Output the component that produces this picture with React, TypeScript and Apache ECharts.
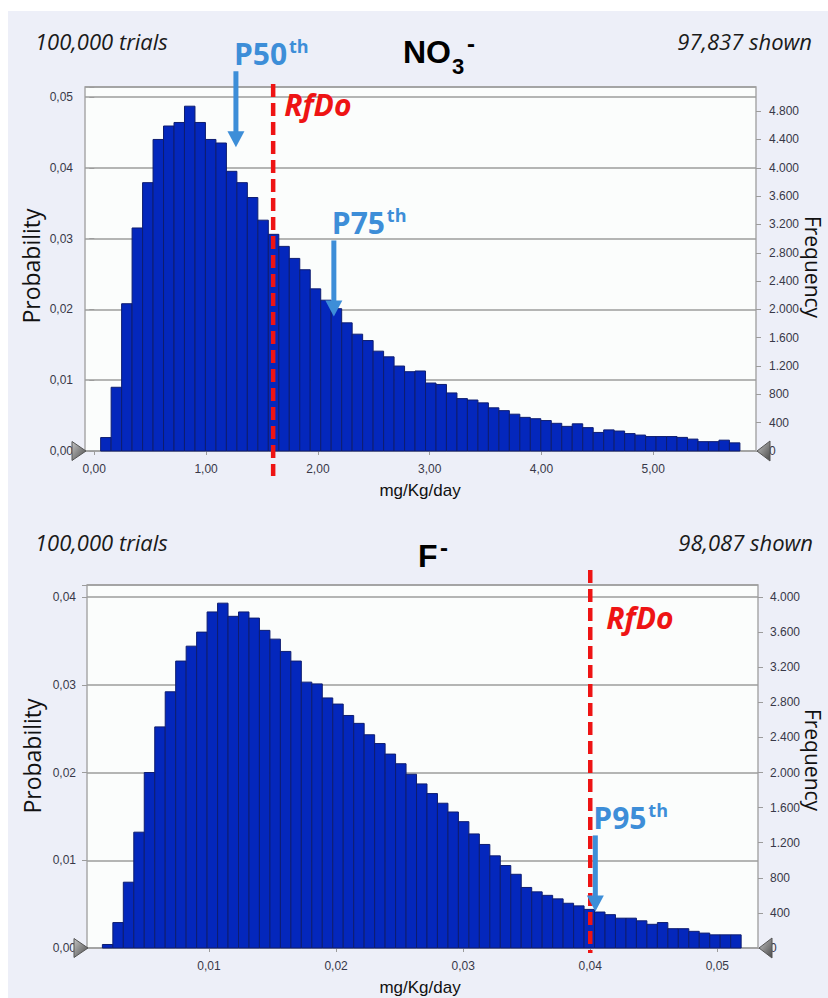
import React, { useEffect, useRef } from 'react';
import * as echarts from 'echarts';

// ---------- data ----------
const TRIALS_TEXT = '100,000 trials';
const NO3_SHOWN_TEXT = '97,837 shown';
const F_SHOWN_TEXT = '98,087 shown';
const X_NAME = 'mg/Kg/day';

// NO3- histogram: 61 bins
const NO3_BIN_START = 0.057;
const NO3_BIN_WIDTH = 0.09374;
const NO3_PROB = [
  0.0019, 0.009, 0.0208, 0.0315, 0.0379, 0.044, 0.0459, 0.0464, 0.0487, 0.0464,
  0.044, 0.0435, 0.0395, 0.0379, 0.0358, 0.0326, 0.0306, 0.0289, 0.0272, 0.0256,
  0.0229, 0.0213, 0.0201, 0.0181, 0.0165, 0.0156, 0.0141, 0.0133, 0.012, 0.0112,
  0.0113, 0.0096, 0.0094, 0.0082, 0.0074, 0.0072, 0.0068, 0.0061, 0.0057, 0.0052,
  0.00475, 0.00456, 0.00430, 0.00391, 0.00348, 0.00384, 0.00330, 0.00262, 0.00298, 0.00282,
  0.00246, 0.00225, 0.00204, 0.00204, 0.00204, 0.00192, 0.00168, 0.00132, 0.00132, 0.00153,
  0.00115,
];
const NO3_X_TICKS = [0, 1, 2, 3, 4, 5];
const NO3_FREQ_TICKS = [0, 400, 800, 1200, 1600, 2000, 2400, 2800, 3200, 3600, 4000, 4400, 4800];
const NO3_X_MIN = -0.083;
const NO3_X_MAX = 5.919;
const NO3_P_MAX = 0.05141;
const NO3_RFD = 1.6;
const NO3_P50 = 1.267;
const NO3_P50_TIP = 0.0429;
const NO3_P75 = 2.143;
const NO3_P75_TIP = 0.019;

// F- histogram: 61 bins
const F_BIN_START = 0.00161;
const F_BIN_WIDTH = 0.000824;
const F_PROB = [
  0.0004, 0.0029, 0.0075, 0.0132, 0.02, 0.0252, 0.0292, 0.0327, 0.0344, 0.036,
  0.0383, 0.0393, 0.0378, 0.0383, 0.0376, 0.0362, 0.0352, 0.0338, 0.0327, 0.0303,
  0.0301, 0.0285, 0.0278, 0.0265, 0.0256, 0.0243, 0.0233, 0.0221, 0.021, 0.0198,
  0.0187, 0.0176, 0.0165, 0.0155, 0.0144, 0.013, 0.0118, 0.0105, 0.0094, 0.0084,
  0.0069, 0.0064, 0.006, 0.0056, 0.0051, 0.0048, 0.0044, 0.0041, 0.0038, 0.0034,
  0.0034, 0.0031, 0.0027, 0.0029, 0.0022, 0.0022, 0.0019, 0.0017, 0.0015, 0.0015,
  0.0015,
];
const F_X_TICKS = [0.01, 0.02, 0.03, 0.04, 0.05];
const F_FREQ_TICKS = [0, 400, 800, 1200, 1600, 2000, 2400, 2800, 3200, 3600, 4000];
const F_X_MIN = 0.0004;
const F_X_MAX = 0.0532;
const F_P_MAX = 0.04137;
const F_RFD = 0.04;
const F_P95 = 0.0404;
const F_P95_TIP = 0.00417;

const TRIALS_COUNT = 100000;

// ---------- styles ----------
const BG = '#edeff8';
const PLOT_BG = '#fbfdfc';
const BAR_FILL = '#0427bc';
const BAR_STROKE = '#0e1d70';
const BLUE = '#3d8ed8';
const RED = '#ee1414';
const LABEL = { color: '#383848', fontSize: 12, fontFamily: 'Liberation Sans, Arial, sans-serif' };
const GRIDLINE = { show: true, lineStyle: { color: '#9c9c9c', width: 1.5 } };
const TICK = { show: true, length: 5, lineStyle: { color: '#9c9c9c', width: 1 } };

const fmtDec = (v: number) => {
  if (Math.abs(v * 100 - Math.round(v * 100)) > 1e-6) return '';
  return v.toFixed(2).replace('.', ',');
};
const fmtThousand = (v: number) => {
  const n = Math.round(v);
  return n >= 1000 ? `${Math.floor(n / 1000)}.${String(n % 1000).padStart(3, '0')}` : String(n);
};

const histData = (start: number, width: number, probs: number[]) =>
  probs.map((p, i) => [start + i * width, start + (i + 1) * width, p]);

const renderItem = (_params: any, api: any) => {
  const a = api.coord([api.value(0), api.value(2)]);
  const b = api.coord([api.value(1), 0]);
  return {
    type: 'rect',
    shape: { x: a[0], y: a[1], width: b[0] - a[0], height: b[1] - a[1] },
    style: { fill: BAR_FILL, stroke: BAR_STROKE, lineWidth: 1 },
  };
};

const xAxisDef = (gridIndex: number, min: number, max: number, ticks: number[]) => ({
  type: 'value',
  gridIndex,
  min,
  max,
  axisLine: { show: false },
  splitLine: { show: false },
  axisTick: { ...TICK, length: 4, customValues: ticks },
  axisLabel: { ...LABEL, customValues: ticks, formatter: fmtDec, margin: 12 },
});

const yLeftDef = (gridIndex: number, max: number, margin: number) => ({
  type: 'value',
  gridIndex,
  position: 'left',
  min: 0,
  max,
  interval: 0.01,
  axisLine: { show: false },
  axisTick: TICK,
  axisLabel: { ...LABEL, formatter: fmtDec, margin },
  splitLine: GRIDLINE,
});

const yRightDef = (gridIndex: number, max: number, ticks: number[], margin: number) => ({
  type: 'value',
  gridIndex,
  position: 'right',
  min: 0,
  max,
  axisLine: { show: false },
  splitLine: { show: false },
  axisTick: { ...TICK, customValues: ticks },
  axisLabel: { ...LABEL, customValues: ticks, formatter: fmtThousand, margin },
});

export default function App() {
  const ref = useRef<HTMLDivElement>(null);

  useEffect(() => {
    if (!ref.current) return;
    const chart = echarts.init(ref.current, undefined, { renderer: 'svg' });
    chart.setOption({
      animation: false,
      backgroundColor: BG,
      grid: [
        { left: 85, top: 87, width: 671, height: 364, show: true, backgroundColor: PLOT_BG, borderColor: '#a9a9a9', borderWidth: 1.5 },
        { left: 87, top: 585, width: 671, height: 363, show: true, backgroundColor: PLOT_BG, borderColor: '#a9a9a9', borderWidth: 1.5 },
      ],
      xAxis: [
        xAxisDef(0, NO3_X_MIN, NO3_X_MAX, NO3_X_TICKS),
        xAxisDef(1, F_X_MIN, F_X_MAX, F_X_TICKS),
      ],
      yAxis: [
        yLeftDef(0, NO3_P_MAX, 12),
        yRightDef(0, NO3_P_MAX * TRIALS_COUNT, NO3_FREQ_TICKS, 13),
        yLeftDef(1, F_P_MAX, 11),
        yRightDef(1, F_P_MAX * TRIALS_COUNT, F_FREQ_TICKS, 12),
      ],
      series: [
        {
          type: 'custom', xAxisIndex: 0, yAxisIndex: 0, renderItem, silent: true,
          encode: { x: [0, 1], y: 2 },
          data: histData(NO3_BIN_START, NO3_BIN_WIDTH, NO3_PROB),
        },
        {
          type: 'custom', xAxisIndex: 1, yAxisIndex: 2, renderItem, silent: true,
          encode: { x: [0, 1], y: 2 },
          data: histData(F_BIN_START, F_BIN_WIDTH, F_PROB),
        },
      ],
    });

    const px = (xi: number, v: number) => chart.convertToPixel({ xAxisIndex: xi } as any, v) as unknown as number;
    const py = (yi: number, v: number) => chart.convertToPixel({ yAxisIndex: yi } as any, v) as unknown as number;

    const els: any[] = [];
    const Z = 100;
    const text = (x: number, y: number, t: string, s: any, extra: any = {}) =>
      els.push({ type: 'text', x, y, z: Z, ...extra, style: { text: t, verticalAlign: 'middle', ...s } });

    const triGrad = {
      type: 'linear', x: 0, y: 0, x2: 1, y2: 1,
      colorStops: [{ offset: 0, color: '#c4c4c4' }, { offset: 1, color: '#4a4a4a' }],
    };
    const triangles = (xl: number, xr: number, y: number) => {
      els.push({ type: 'polygon', z: Z, shape: { points: [[xl - 13, y - 9.5], [xl + 1, y], [xl - 13, y + 9.5]] }, style: { fill: triGrad, stroke: '#555', lineWidth: 1 } });
      els.push({ type: 'polygon', z: Z, shape: { points: [[xr + 14, y - 10], [xr + 1, y], [xr + 14, y + 10]] }, style: { fill: triGrad, stroke: '#555', lineWidth: 1 } });
    };
    const arrow = (x: number, yTip: number) => {
      els.push({ type: 'rect', z: Z, shape: { x: x - 2.5, y: yTip - 76, width: 5, height: 62 }, style: { fill: BLUE } });
      els.push({ type: 'polygon', z: Z, shape: { points: [[x - 8.5, yTip - 16], [x + 8.5, yTip - 16], [x, yTip]] }, style: { fill: BLUE } });
      return x - 2;
    };
    const pLabel = (x: number, yTip: number, main: string) => {
      const tx = arrow(x, yTip);
      const yc = yTip - 94;
      text(tx, yc, main, { fill: BLUE, fontSize: 30, fontWeight: 'bold', fontFamily: 'Open Sans' });
      text(tx + 55, yc - 7, 'th', { fill: BLUE, fontSize: 18, fontWeight: 'bold', fontFamily: 'Open Sans' });
    };
    const rfd = (x: number, y1: number, y2: number, tx: number, ty: number) => {
      els.push({ type: 'line', z: Z, shape: { x1: x, y1, x2: x, y2 }, style: { stroke: RED, lineWidth: 4.5, lineDash: [13, 6] } });
      text(tx, ty, 'RfDo', { fill: RED, fontSize: 30, fontWeight: 'bold', fontStyle: 'italic', fontFamily: 'Open Sans' });
    };
    const headerTexts = (y: number, shown: string, shownX: number) => {
      const st = { fill: '#1a1a1a', fontSize: 22, fontStyle: 'italic', fontFamily: 'Open Sans' };
      text(35, y, TRIALS_TEXT, st);
      text(shownX, y, shown, { ...st, align: 'right' });
    };
    const axisNames = (probX: number, probY: number, freqX: number, freqY: number, xNameY: number) => {
      const st = { fill: '#111', fontSize: 21, fontFamily: 'Open Sans', align: 'center' };
      text(probX, probY, 'Probability', { ...st, fontSize: 23 }, { rotation: Math.PI / 2 });
      text(freqX, freqY, 'Frequency', st, { rotation: -Math.PI / 2 });
      text(420, xNameY, X_NAME, { fill: '#111', fontSize: 17, fontFamily: 'Liberation Sans, Arial', align: 'center' });
    };
    const titleSt = { fill: '#000', fontWeight: 'bold', fontFamily: 'Liberation Sans, Arial' };

    // ---- top chart (NO3-) ----
    const t0 = py(0, 0);
    const tTop = py(0, NO3_P_MAX);
    const tL = px(0, NO3_X_MIN);
    const tR = px(0, NO3_X_MAX);
    const rx0 = px(0, NO3_RFD);
    rfd(rx0, tTop - 3, t0 + 25, rx0 + 11, tTop + 17);
    pLabel(px(0, NO3_P50), py(0, NO3_P50_TIP), 'P50');
    pLabel(px(0, NO3_P75), py(0, NO3_P75_TIP), 'P75');
    triangles(tL, tR, t0);
    headerTexts(41, NO3_SHOWN_TEXT, 812);
    text(403, 52, 'NO', { ...titleSt, fontSize: 32 });
    text(452, 66, '3', { ...titleSt, fontSize: 22 });
    text(467, 43, '-', { ...titleSt, fontSize: 24 });
    axisNames(31, 266, 813, 267, 490);

    // ---- bottom chart (F-) ----
    const b0 = py(2, 0);
    const bTop = py(2, F_P_MAX);
    const bL = px(1, F_X_MIN);
    const bR = px(1, F_X_MAX);
    const rx1 = px(1, F_RFD);
    rfd(rx1, bTop - 15, b0 + 5, rx1 + 16, bTop + 32);
    pLabel(px(1, F_P95), py(2, F_P95_TIP), 'P95');
    triangles(bL, bR, b0);
    headerTexts(542, F_SHOWN_TEXT, 813);
    text(418, 556, 'F', { ...titleSt, fontSize: 32 });
    text(440, 547, '-', { ...titleSt, fontSize: 24 });
    axisNames(32, 756, 813, 760, 987);

    // white page strips
    els.push({ type: 'rect', z: Z, shape: { x: 0, y: 0, width: 828, height: 11 }, style: { fill: '#ffffff' } });
    els.push({ type: 'rect', z: Z, shape: { x: 0, y: 0, width: 8, height: 998 }, style: { fill: '#ffffff' } });

    chart.setOption({ graphic: { elements: els } });

    return () => chart.dispose();
  }, []);

  return <div ref={ref} style={{ position: 'absolute', left: 0, top: 0, width: 828, height: 998 }} />;
}
